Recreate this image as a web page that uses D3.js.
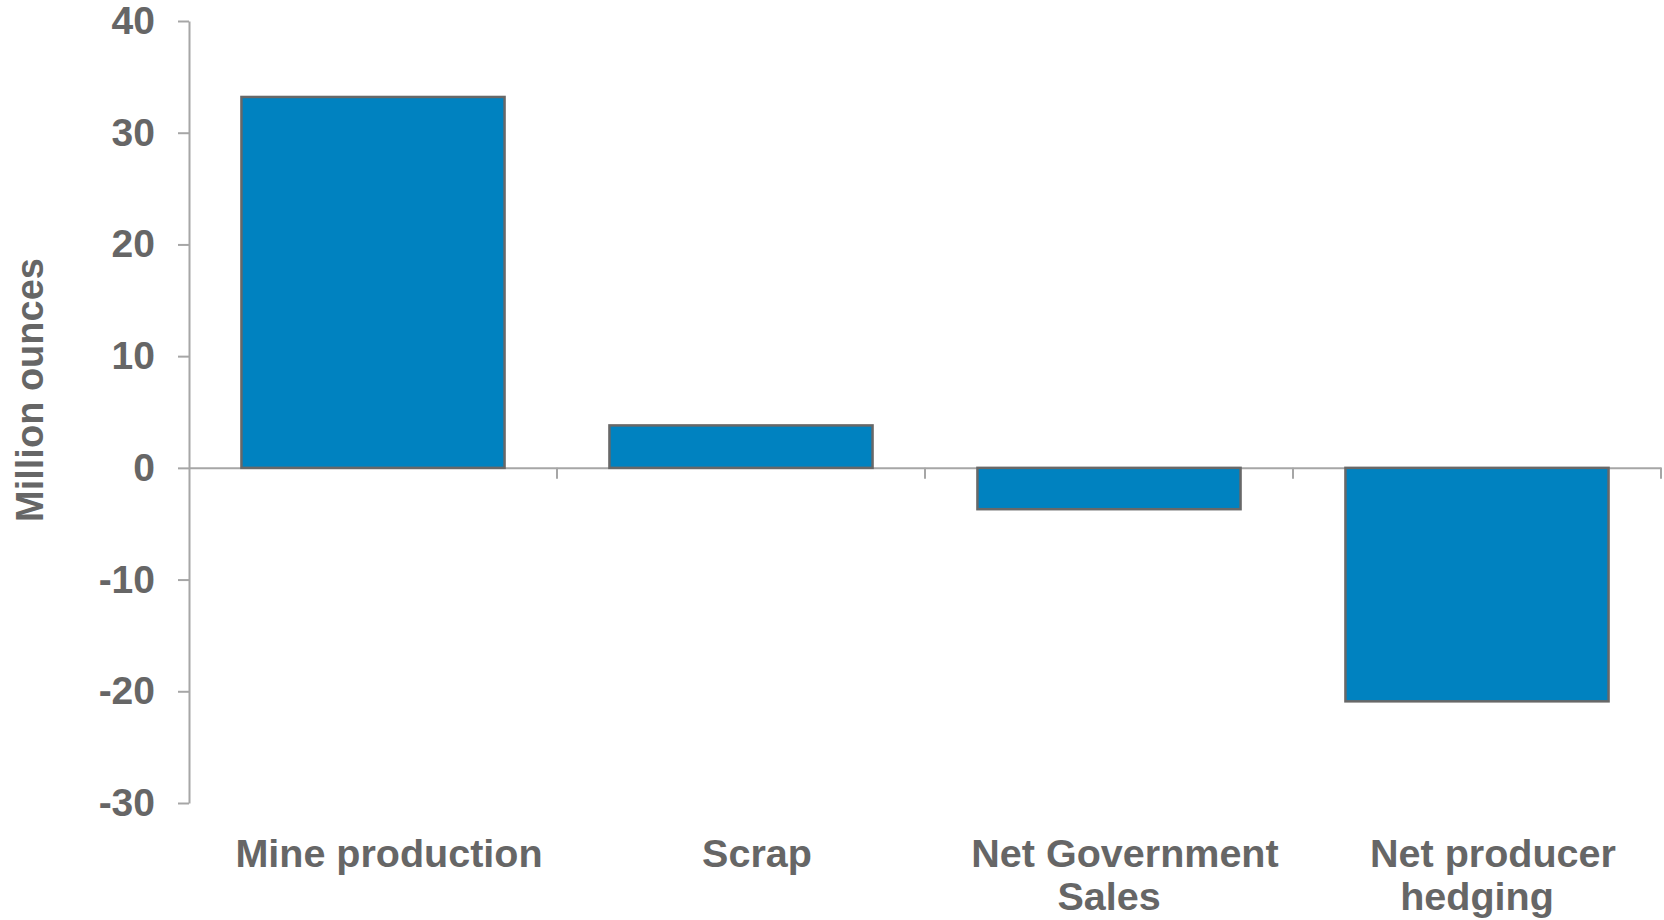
<!DOCTYPE html>
<html>
<head>
<meta charset="utf-8">
<script src="https://cdn.jsdelivr.net/npm/d3@7"></script>
<style>
  body { margin: 0; background: #fff; }
  text { font-family: "Liberation Sans", Arial, sans-serif; font-weight: bold; fill: #666; }
</style>
</head>
<body>
<div class="chart"></div>
<script>
// data
var categories = ["Mine production", "Scrap", "Net Government Sales", "Net producer hedging"];
var labelLines = [["Mine production"], ["Scrap"], ["Net Government", "Sales"], ["Net producer", "hedging"]];
var values = [33.2, 3.8, -3.7, -20.9];
var yTicks = [-30, -20, -10, 0, 10, 20, 30, 40];

var svg = d3.select(".chart").append("svg").attr("width", 1664).attr("height", 920),
    plotLeft = 189, plotRight = 1661, plotTop = 21, plotBottom = 803,
    x = d3.scaleBand().domain(categories).range([plotLeft, plotRight]).paddingInner(0.285).paddingOuter(0.1425),
    y = d3.scaleLinear().domain([-30, 40]).range([plotBottom, plotTop]);

// y axis (plain hyphen for negatives, as in the original)
var yAxis = svg.append("g")
    .attr("transform", `translate(${plotLeft},0)`)
    .call(d3.axisLeft(y).tickValues(yTicks).tickFormat(d => d < 0 ? "-" + Math.abs(d) : String(d))
            .tickSize(11).tickSizeOuter(0).tickPadding(23));
yAxis.select(".domain").attr("stroke", "#a6a6a6").attr("stroke-width", 2);
yAxis.selectAll(".tick line").attr("stroke", "#a6a6a6").attr("stroke-width", 2);
yAxis.selectAll(".tick text").style("font-size", "39px").attr("fill", "#666");

// zero line with ticks between categories
var xAxis = svg.append("g")
    .attr("transform", `translate(0,${y(0)})`)
    .call(d3.axisBottom(x).tickSize(11).tickSizeOuter(0).tickFormat(""));
xAxis.select(".domain").attr("stroke", "#a6a6a6").attr("stroke-width", 2);
xAxis.selectAll(".tick line")
    .attr("x1", x.step() / 2).attr("x2", x.step() / 2)
    .attr("stroke", "#a6a6a6").attr("stroke-width", 2);

// bars
svg.selectAll(".bar")
  .data(values)
  .enter().append("rect")
    .attr("class", "bar")
    .attr("x", (d, i) => x(categories[i]))
    .attr("y", d => y(Math.max(0, d)))
    .attr("width", x.bandwidth())
    .attr("height", d => Math.abs(y(d) - y(0)))
    .attr("fill", "#0082c0")
    .attr("stroke", "#686868")
    .attr("stroke-width", 2.5);

// category labels
var cat = svg.selectAll(".cat")
  .data(labelLines)
  .enter().append("text")
    .attr("class", "cat")
    .attr("text-anchor", "middle")
    .style("font-size", "39.5px");
cat.selectAll("tspan")
  .data((d, i) => d.map((t, j) => ({t: t, j: j, c: categories[i]})))
  .enter().append("tspan")
    .attr("x", d => x(d.c) + x.bandwidth() / 2 + (d.j == 0 ? 16 : 0))
    .attr("y", d => 867 + d.j * 43)
    .text(d => d.t);

// y title
svg.append("text")
    .attr("transform", "translate(43,390) rotate(-90)")
    .attr("text-anchor", "middle")
    .style("font-size", "38px")
    .text("Million ounces");
</script>
</body>
</html>
